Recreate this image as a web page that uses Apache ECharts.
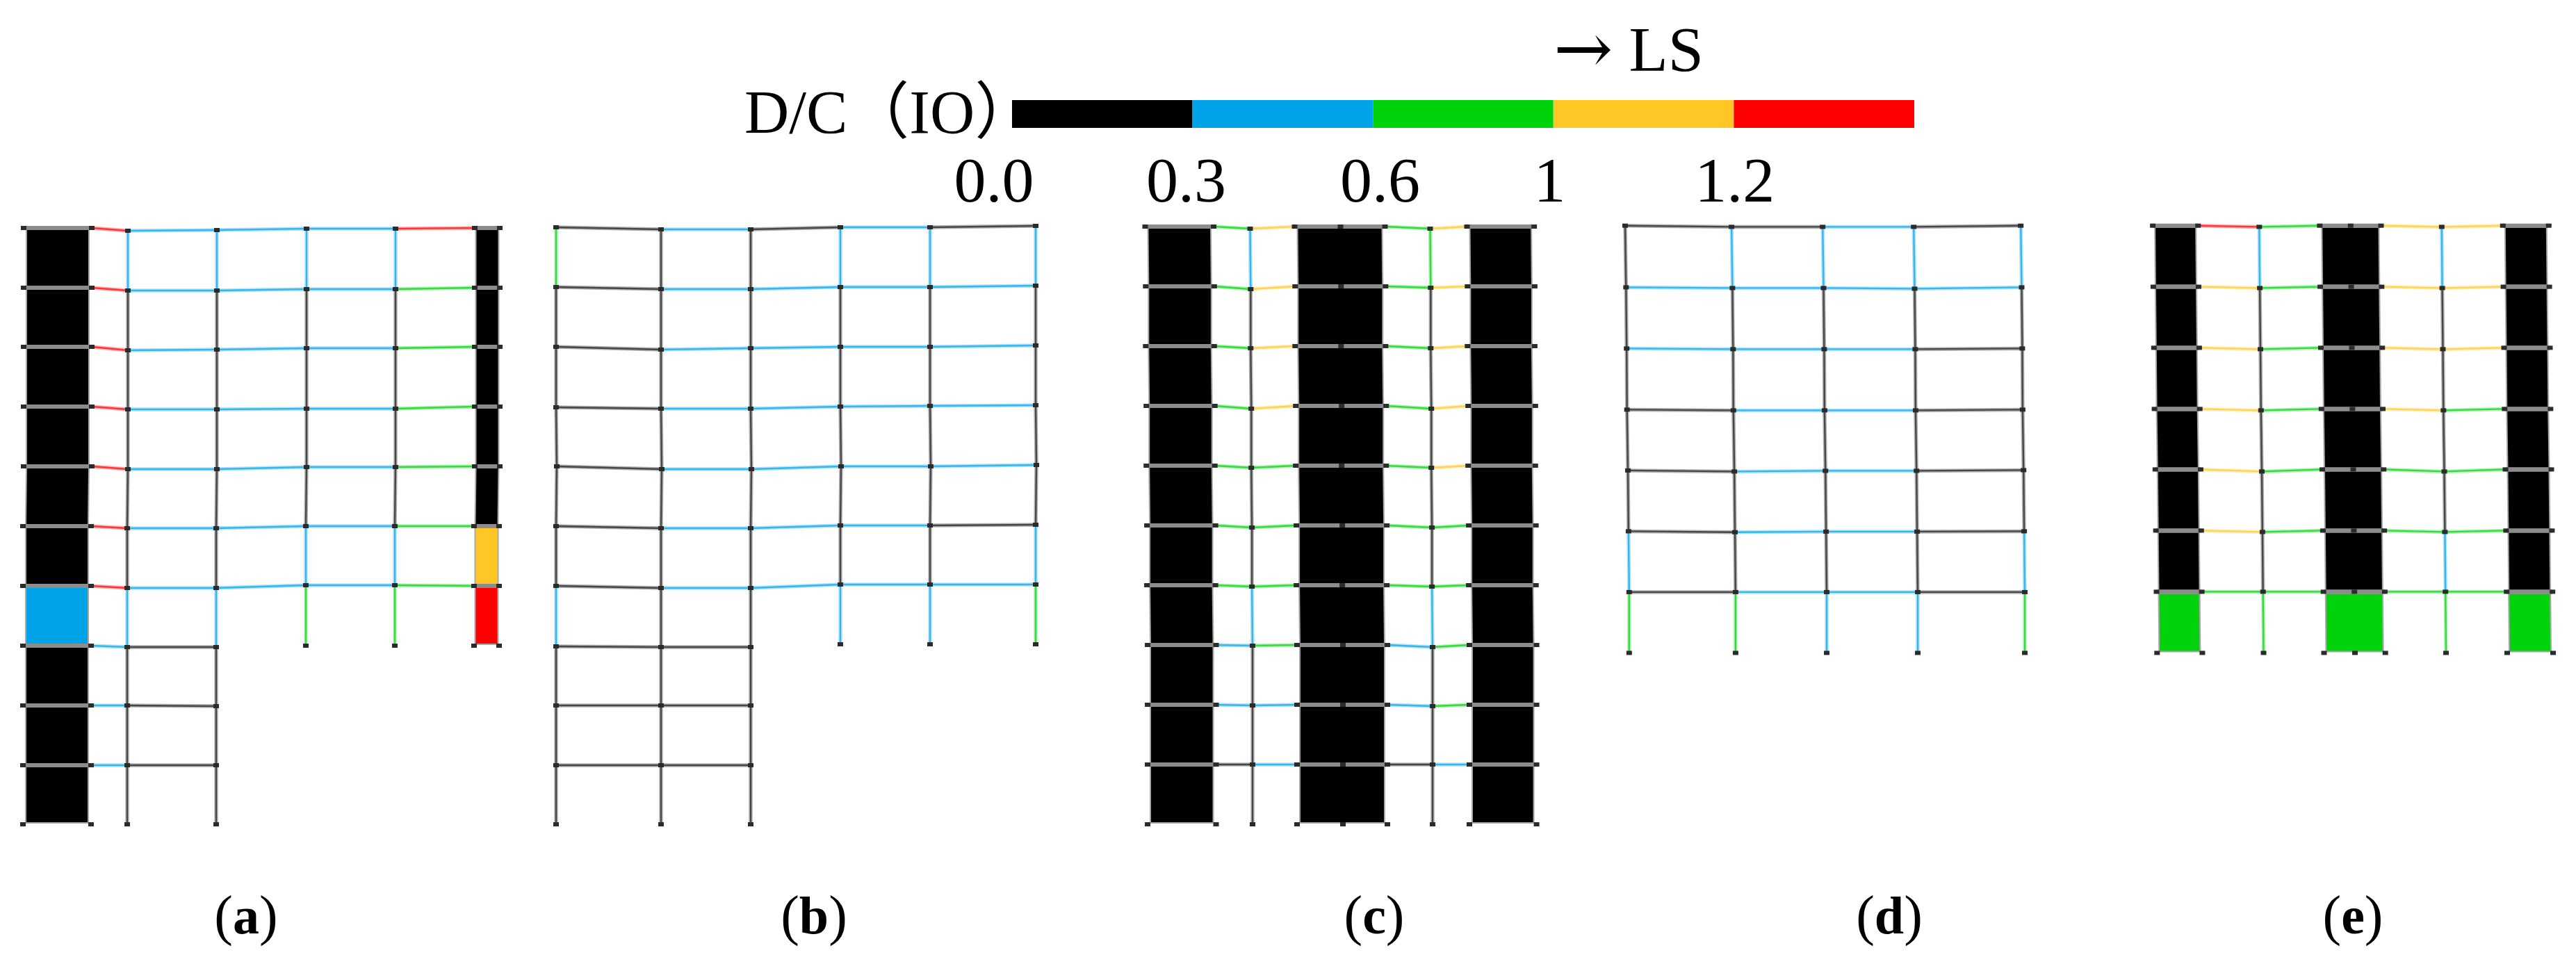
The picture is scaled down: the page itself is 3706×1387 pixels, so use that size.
<!DOCTYPE html>
<html>
<head>
<meta charset="utf-8">
<title>D/C frames</title>
<style>
  html, body { margin: 0; padding: 0; background: #fff; }
  #main { width: 3706px; height: 1387px; }
</style>
<script src="https://cdn.jsdelivr.net/npm/echarts@6/dist/echarts.min.js"></script>
</head>
<body>
<div id="main"></div>
<script>
// colour codes: k 0.0-0.3, b 0.3-0.6, g 0.6-1, y 1-1.2, r > 1.2
const stateCodes = 'kbgyr';
const stateColors = ['#000000', '#00a2e8', '#00d20c', '#ffc726', '#ff0000'];
const legendTickPos = [-0.1, 0.965, 2.04, 2.98, 4.005];
const legendTickText = ['0.0', '0.3', '0.6', '1', '1.2'];

// every list below runs top floor -> ground. x = offset in panel, elevation above panel base
// panel (a)
const aColX = [0, 98, 150, 278, 407, 535, 649, 685];
const aWallElev = [858, 772, 687, 601, 515, 429, 343, 257, 171, 85, 0];
const aC1Elev = [854, 768, 682, 597, 511, 426, 340, 255, 171, 85, 0];
const aC2Elev = [855, 768, 683, 597, 511, 426, 340, 255, 170, 85, 0];
const aC3Elev = [857, 770, 685, 598, 514, 429, 344, 257];
const aRightElev = [858, 772, 687, 601, 515, 429, 343, 257];
const aDrift = [1, 1, 1, 1, 1, 0, 0, 0, 0, 0, 0];
const aBeams = ['rbbbr', 'rbbbg', 'rbbbg', 'rbbbg', 'rbbbg', 'rbbbg', 'rbbbg', 'bk', 'bk', 'bk'];
const aColumns = ['bkkkkkbkkk', 'bkkkkkbkkk', 'bkkkkbg', 'bkkkkbg'];
const aWalls = ['kkkkkkbkkk', 'kkkkkyr'];

// panel (b)
const bColX = [0, 151, 280, 409, 538, 690];
const bC0Elev = [859, 773, 687, 600, 515, 429, 343, 256, 171, 85, 0];
const bC1Elev = [856, 770, 683, 598, 511, 426, 340, 255, 171, 85, 0];
const bC2Elev = [856, 770, 685, 598, 511, 426, 340, 255, 171, 85, 0];
const bC3Elev = [859, 773, 687, 601, 515, 430, 345, 259];
const bC4Elev = [859, 773, 687, 602, 515, 430, 345, 259];
const bC5Elev = [861, 775, 689, 603, 517, 431, 345, 259];
const bDrift = [0, 0, 0, 0, 1, 0, 0, 0, 0, 0, 0];
const bBeams = ['kbkbk', 'kbbbb', 'kbbbb', 'kbbbb', 'kbbbb', 'kbbbk', 'kbbbb', 'kk', 'kk', 'kk'];
const bColumns = ['gkkkkkbkkk', 'kkkkkkkkkk', 'kkkkkkkkkk', 'bkkkkkb', 'bkkkkkb', 'bkkkkbg'];

// panel (c)
const cColX = [11, 109.5, 162, 226, 292, 356, 421, 474, 570.6];
const cWallElev = [860, 774, 688, 602, 516, 430, 344, 258, 172, 86, 0];
const cC1Elev = [857, 770, 685, 598, 513, 427, 342, 257, 171, 86, 0];
const cC2Elev = [857, 772, 685, 598, 513, 427, 342, 255, 170, 86, 0];
const cDrift = [-3.5, -2.7, -2.7, -1.8, -1.8, -0.9, -0.9, 0, 0, 0, 0];
const cBeams = ['gygy', 'gygy', 'gygy', 'gygy', 'gggy', 'gggg', 'gggg', 'bgbg', 'bbbg', 'kbkb'];
const cColumns = ['bkkkkkbkkk', 'gkkkkkbkkk'];
const cWalls = ['kkkkkkkkkk', 'kkkkkkkkkk', 'kkkkkkkkkk'];

// panel (d)
const dColX = [8.8, 161.9, 293, 424, 578];
const dC0Elev = [614.7, 526, 438, 350, 262.5, 175, 87.5, 0];
const dC1Elev = [613, 525, 437, 349, 261, 173.7, 87.5, 0];
const dC2Elev = [613, 525, 437, 349, 262, 174.5, 87.5, 0];
const dC3Elev = [613, 524, 437, 349, 262, 174.5, 87.5, 0];
const dC4Elev = [614.7, 526, 438, 350, 263, 175, 87.5, 0];
const dDrift = [-5.8, -4.5, -3.6, -3.1, -1.8, -0.9, 0, 0];
const dBeams = ['kkbk', 'bbbb', 'bbbk', 'kbbk', 'kbbk', 'kbbk', 'kbbk'];
const dColumns = ['kkkkkbg', 'bkkkkkg', 'bkkkkkb', 'bkkkkkb', 'bkkkkbg'];

// panel (e)
const eColX = [13.3, 78.4, 166.5, 253.5, 298, 341.7, 429, 517, 583];
const eWallElev = [614.7, 526.8, 439, 351, 264, 176, 88, 0];
const eC1Elev = [613, 525, 437, 349, 261, 174, 88, 0];
const eDrift = [-6.2, -5.4, -4.5, -3.7, -2.5, -1.6, -0.8, 0];
const eBeams = ['rgyy', 'ygyy', 'ygyy', 'ygyg', 'yggg', 'yggg', 'gggg'];
const eColumns = ['bkkkkkg', 'bkkkkbg'];
const eWalls = ['kkkkkkg', 'kkkkkkg', 'kkkkkkg'];

// layout of a panel: which columns carry which list, grid box
const panels = [
  { label: 'a', labelX: 349, left: 33, top: 320, width: 690, height: 866, colX: aColX, drift: aDrift,
    elev: [aWallElev, aWallElev, aC1Elev, aC2Elev, aC3Elev, aC3Elev, aRightElev, aRightElev],
    spans: [[1, 2], [2, 3], [3, 4], [4, 5], [5, 6]], beams: aBeams,
    frameCols: [2, 3, 4, 5], columns: aColumns, wallCols: [[0, 1], [6, 7]], walls: aWalls, insets: [4, 1.5] },
  { label: 'b', labelX: 1166, left: 800, top: 320, width: 700, height: 866, colX: bColX, drift: bDrift,
    elev: [bC0Elev, bC1Elev, bC2Elev, bC3Elev, bC4Elev, bC5Elev],
    spans: [[0, 1], [1, 2], [2, 3], [3, 4], [4, 5]], beams: bBeams,
    frameCols: [0, 1, 2, 3, 4, 5], columns: bColumns, wallCols: [], walls: [], insets: [] },
  { label: 'c', labelX: 1972, left: 1640, top: 320, width: 580, height: 866, colX: cColX, drift: cDrift,
    elev: [cWallElev, cWallElev, cC1Elev, cWallElev, cWallElev, cWallElev, cC2Elev, cWallElev, cWallElev],
    spans: [[1, 2], [2, 3], [5, 6], [6, 7]], beams: cBeams,
    frameCols: [2, 6], columns: cColumns, wallCols: [[0, 1], [3, 5], [7, 8]], walls: cWalls, insets: [4, 4, 4] },
  { label: 'd', labelX: 2713, left: 2335, top: 299.4, width: 590, height: 640, colX: dColX, drift: dDrift,
    elev: [dC0Elev, dC1Elev, dC2Elev, dC3Elev, dC4Elev],
    spans: [[0, 1], [1, 2], [2, 3], [3, 4]], beams: dBeams,
    frameCols: [0, 1, 2, 3, 4], columns: dColumns, wallCols: [], walls: [], insets: [] },
  { label: 'e', labelX: 3380, left: 3090, top: 299.4, width: 590, height: 640, colX: eColX, drift: eDrift,
    elev: [eWallElev, eWallElev, eC1Elev, eWallElev, eWallElev, eWallElev, eC1Elev, eWallElev, eWallElev],
    spans: [[1, 2], [2, 3], [5, 6], [6, 7]], beams: eBeams,
    frameCols: [2, 6], columns: eColumns, wallCols: [[0, 1], [3, 5], [7, 8]], walls: eWalls, insets: [3, 3, 3] },
];

const ARM = 5;

function nodeOf(p, c, l) {
  return [p.colX[c] + (p.drift[l] || 0), p.elev[c][l]];
}

function memberRows(p) {
  const rows = [];
  p.beams.forEach((codes, l) => {
    [...codes].forEach((code, s) => {
      const [c1, c2] = p.spans[s];
      rows.push([...nodeOf(p, c1, l), ...nodeOf(p, c2, l), stateCodes.indexOf(code)]);
    });
  });
  p.columns.forEach((codes, i) => {
    const c = p.frameCols[i];
    [...codes].forEach((code, s) => {
      rows.push([...nodeOf(p, c, s), ...nodeOf(p, c, s + 1), stateCodes.indexOf(code)]);
    });
  });
  // rigid arms of the walls
  p.wallCols.forEach(([c1, c2], i) => {
    for (let l = 0; l < p.walls[i].length; l++) {
      rows.push([...nodeOf(p, c1, l), ...nodeOf(p, c2, l), ARM]);
    }
  });
  return rows;
}

function wallRows(p) {
  const rows = [];
  p.wallCols.forEach(([c1, c2], i) => {
    [...p.walls[i]].forEach((code, s) => {
      rows.push([...nodeOf(p, c1, s), ...nodeOf(p, c2, s), ...nodeOf(p, c2, s + 1), ...nodeOf(p, c1, s + 1), stateCodes.indexOf(code), p.insets[i]]);
    });
  });
  return rows;
}

function nodeRows(p) {
  const rows = [];
  p.elev.forEach((list, c) => list.forEach((_, l) => rows.push(nodeOf(p, c, l))));
  return rows;
}

function renderMember(params, api) {
  const a = api.coord([api.value(0), api.value(1)]);
  const b = api.coord([api.value(2), api.value(3)]);
  const shape = { x1: a[0], y1: a[1], x2: b[0], y2: b[1] };
  const code = api.value(4);
  if (code === ARM) {
    return { type: 'line', shape, style: { stroke: '#8c8c8c', lineWidth: 6 } };
  }
  const stroke = stateColors[code];
  // halo + core, the source figure is a soft upscaled bitmap
  return {
    type: 'group',
    children: [
      { type: 'line', shape, style: { stroke, lineWidth: 5.5, opacity: 0.3 } },
      { type: 'line', shape, style: { stroke, lineWidth: 2.4, opacity: code === 0 ? 0.6 : 0.7 } },
    ],
  };
}

function renderWall(params, api) {
  const p0 = api.coord([api.value(0), api.value(1)]);
  const p1 = api.coord([api.value(2), api.value(3)]);
  const p2 = api.coord([api.value(4), api.value(5)]);
  const p3 = api.coord([api.value(6), api.value(7)]);
  const inset = api.value(9);
  return {
    type: 'polygon',
    shape: {
      points: [
        [p0[0] + inset, p0[1] + 2], [p1[0] - inset, p1[1] + 2],
        [p2[0] - inset, p2[1] - 2], [p3[0] + inset, p3[1] - 2],
      ],
    },
    style: { fill: stateColors[api.value(8)], stroke: '#a8a8a8', lineWidth: 2 },
  };
}

const grids = [], xAxes = [], yAxes = [], series = [];
panels.forEach((p, i) => {
  grids.push({ left: p.left, top: p.top, width: p.width, height: p.height });
  xAxes.push({ type: 'value', gridIndex: i, min: 0, max: p.width, show: false });
  yAxes.push({ type: 'value', gridIndex: i, min: 0, max: p.height, show: false });
  const axes = { xAxisIndex: i, yAxisIndex: i };
  series.push(
    { type: 'custom', ...axes, renderItem: renderWall, data: wallRows(p), clip: false, silent: true, z: 2 },
    { type: 'custom', ...axes, renderItem: renderMember, data: memberRows(p), clip: false, silent: true, z: 3 },
    { type: 'scatter', ...axes, data: nodeRows(p), symbol: 'rect', symbolSize: [8, 6], clip: false, silent: true, z: 4,
      itemStyle: { color: '#2b2b2b', opacity: 1 } }
  );
});

// colour bar: one stacked horizontal bar, one unit per class
const legendIdx = panels.length;
grids.push({ left: 1430, top: 144, width: 1324, height: 40 });
xAxes.push({
  type: 'value', gridIndex: legendIdx, min: -0.1, max: 5,
  axisLine: { show: false }, axisTick: { show: false }, splitLine: { show: false },
  axisLabel: {
    customValues: legendTickPos,
    formatter: (v) => legendTickText[legendTickPos.indexOf(v)],
    margin: 36, color: '#000', fontSize: 92, fontFamily: '"Liberation Serif"',
  },
});
yAxes.push({ type: 'category', gridIndex: legendIdx, data: ['D/C'], show: false });
stateColors.forEach((color, i) => {
  series.push({
    type: 'bar', xAxisIndex: legendIdx, yAxisIndex: legendIdx, stack: 'dc', barWidth: '100%',
    data: [1], itemStyle: { color }, silent: true,
  });
});

const serif = '"Liberation Serif", "Noto Sans CJK SC"';
const titles = [
  { text: 'D/C（IO）', left: 1066, top: 118, textStyle: { fontFamily: serif, fontSize: 89, fontWeight: 'normal', color: '#000' } },
  {
    text: '{a|→}{t| LS}', left: 2230, top: 22,
    textStyle: {
      rich: {
        a: { fontFamily: '"DejaVu Serif"', fontSize: 102, fontWeight: 'normal', color: '#000' },
        t: { fontFamily: serif, fontSize: 92, fontWeight: 'normal', color: '#000' },
      },
    },
  },
];
panels.forEach((p) => {
  titles.push({
    text: `{p|(}{b|${p.label}}{p|)}`,
    left: p.labelX, top: 1278, textAlign: 'center',
    textStyle: {
      rich: {
        p: { fontFamily: serif, fontSize: 80, fontWeight: 'normal', color: '#000' },
        b: { fontFamily: serif, fontSize: 76, fontWeight: 'bold', color: '#000' },
      },
    },
  });
});

const chart = echarts.init(document.getElementById('main'), null, { width: 3706, height: 1387 });
chart.setOption({
  animation: false,
  backgroundColor: '#fff',
  title: titles,
  grid: grids,
  xAxis: xAxes,
  yAxis: yAxes,
  series,
});
</script>
</body>
</html>
